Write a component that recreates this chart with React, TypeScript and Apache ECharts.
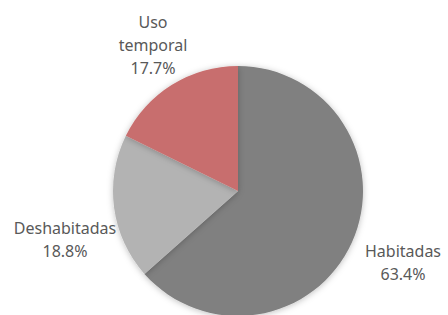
import React, { useEffect, useRef } from "react";
import * as echarts from "echarts";

const categories = ["Habitadas", "Deshabitadas", "Uso temporal"];
const values = [63.4, 18.8, 17.7];
const colors = ["#808080", "#b3b3b3", "#c86e6e"];
const labelCenters: [number, number][] = [
  [403, 262],
  [65, 239],
  [153, 45],
];

export default function App() {
  const ref = useRef<HTMLDivElement>(null);
  useEffect(() => {
    if (!ref.current) return;
    const chart = echarts.init(ref.current, null, { renderer: "svg" });
    chart.setOption({
      animation: false,
      backgroundColor: "#ffffff",
      series: [
        {
          type: "pie",
          center: [238, 191],
          radius: [0, 125],
          startAngle: 90,
          clockwise: true,
          avoidLabelOverlap: false,
          itemStyle: {
            shadowBlur: 6,
            shadowColor: "rgba(0,0,0,0.25)",
            shadowOffsetY: 1,
          },
          label: {
            show: true,
            position: "outside",
            fontFamily: "Noto Sans",
            fontSize: 16,
            lineHeight: 23,
            color: "#595959",
            align: "center",
            formatter: (p: any) =>
              p.name.replace(" ", "\n") + "\n" + Number(p.value).toFixed(1) + "%",
          },
          labelLine: { show: false },
          labelLayout: (params: any) => {
            const c = labelCenters[params.dataIndex];
            return { x: c[0], y: c[1], align: "center", verticalAlign: "middle" };
          },
          data: categories.map((name, i) => ({
            name,
            value: values[i],
            itemStyle: { color: colors[i] },
          })),
        },
      ],
    });
    return () => chart.dispose();
  }, []);
  return (
    <div
      ref={ref}
      style={{ position: "fixed", left: 0, top: 0, width: 448, height: 315 }}
    />
  );
}
